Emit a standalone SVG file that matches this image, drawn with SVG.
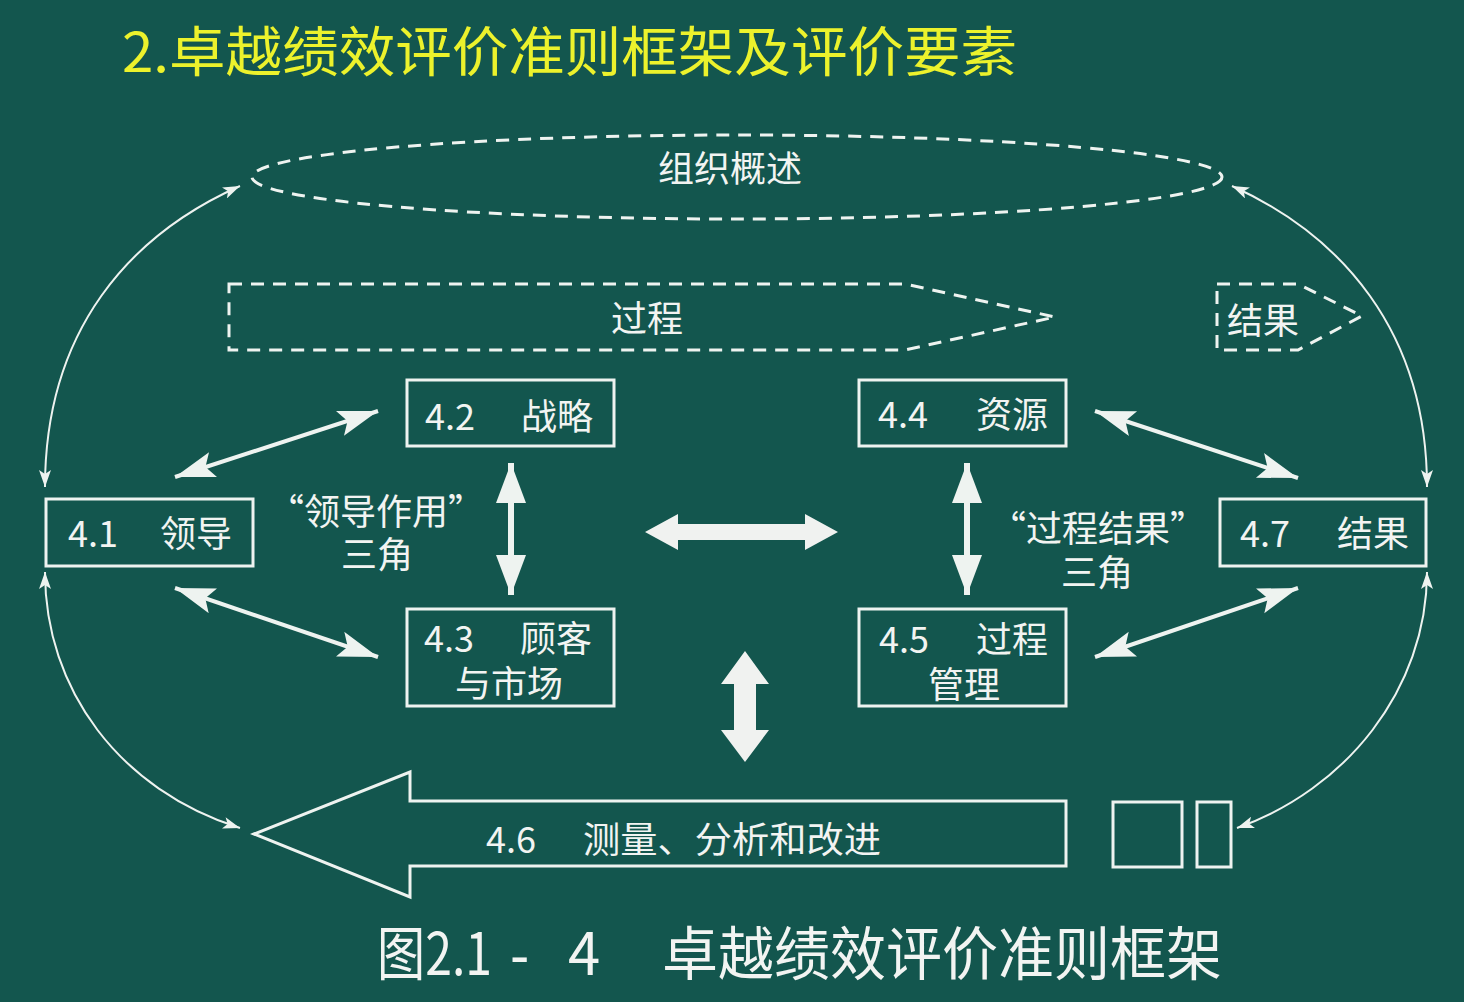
<svg xmlns="http://www.w3.org/2000/svg" width="1464" height="1002" viewBox="0 0 1464 1002">
<defs>
<style>
.t{font-family:"Noto Sans CJK SC","Liberation Sans",sans-serif;fill:#f2f4f2;font-size:36px}
.box{fill:none;stroke:#eef3f0;stroke-width:3}
.dash{fill:none;stroke:#eef3f0;stroke-width:3;stroke-dasharray:13 9}
.thin{fill:none;stroke:#eef3f0;stroke-width:2}
.mid{fill:none;stroke:#eef3f0;stroke-width:4}
.vert{fill:none;stroke:#eef3f0;stroke-width:6}
.fat{fill:#f0f2f0;stroke:none}
</style>
<marker id="ah" markerUnits="userSpaceOnUse" markerWidth="42" markerHeight="28" refX="40" refY="13" orient="auto-start-reverse">
<path d="M0,0 L40,13 L0,26 L8,13 Z" fill="#eef3f0"/>
</marker>
<marker id="av" markerUnits="userSpaceOnUse" markerWidth="42" markerHeight="30" refX="40" refY="15" orient="auto-start-reverse">
<path d="M0,0 L40,15 L0,30 Z" fill="#eef3f0"/>
</marker>
<marker id="at" markerUnits="userSpaceOnUse" markerWidth="18" markerHeight="12" refX="17" refY="6" orient="auto-start-reverse">
<path d="M0,0 L17,6 L0,12 L4,6 Z" fill="#eef3f0"/>
</marker>
</defs>
<rect width="1464" height="1002" fill="#13564e"/>
<text x="122" y="72" class="t" style="fill:#ecf22c;font-size:54px" textLength="895" lengthAdjust="spacingAndGlyphs">2.卓越绩效评价准则框架及评价要素</text>

<g id="overview">
<ellipse cx="737" cy="177" rx="485" ry="42" class="dash"/>
<text x="730" y="182" class="t" text-anchor="middle">组织概述</text>
</g>
<g id="process">
<path d="M229,284 L905,284 L1055,317 L905,350 L229,350 Z" class="dash"/>
<text x="647" y="332" class="t" text-anchor="middle">过程</text>
</g>
<g id="results">
<path d="M1217,284 L1298,284 L1362,316 L1298,350 L1217,350 Z" class="dash"/>
<text x="1227" y="334" class="t">结果</text>
</g>

<g id="n41">
<rect x="46" y="499" width="207" height="67" class="box"/>
<text y="547" class="t"><tspan x="68">4.1</tspan><tspan x="160">领导</tspan></text>
</g>
<g id="n42">
<rect x="407" y="380" width="207" height="66" class="box"/>
<text y="430" class="t"><tspan x="425">4.2</tspan><tspan x="521">战略</tspan></text>
</g>
<g id="n43">
<rect x="407" y="609" width="207" height="97" class="box"/>
<text y="652" class="t"><tspan x="424">4.3</tspan><tspan x="520">顾客</tspan></text>
<text x="455" y="697" class="t">与市场</text>
</g>
<g id="n44">
<rect x="859" y="380" width="207" height="66" class="box"/>
<text y="428" class="t"><tspan x="878">4.4</tspan><tspan x="976">资源</tspan></text>
</g>
<g id="n45">
<rect x="859" y="609" width="207" height="97" class="box"/>
<text y="653" class="t"><tspan x="879">4.5</tspan><tspan x="976">过程</tspan></text>
<text x="928" y="698" class="t">管理</text>
</g>
<g id="n47">
<rect x="1220" y="499" width="206" height="67" class="box"/>
<text y="547" class="t"><tspan x="1240">4.7</tspan><tspan x="1337">结果</tspan></text>
</g>
<g id="n46">
<path d="M254,834 L410,772 L410,801 L1066,801 L1066,866 L410,866 L410,897 Z" class="box"/>
<text y="853" class="t"><tspan x="486">4.6</tspan><tspan x="583" textLength="298" lengthAdjust="spacingAndGlyphs">测量、分析和改进</tspan></text>
</g>
<g id="squares">
<rect x="1113" y="802" width="69" height="65" class="box"/>
<rect x="1197" y="802" width="34" height="65" class="box"/>
</g>
<g id="tri1">
<text x="376" y="525" class="t" text-anchor="middle">“领导作用”</text>
<text x="377" y="568" class="t" text-anchor="middle">三角</text>
</g>
<g id="tri2">
<text x="1098" y="542" class="t" text-anchor="middle">“过程结果”</text>
<text x="1097" y="586" class="t" text-anchor="middle">三角</text>
</g>

<g id="connectors">
<line x1="175" y1="477" x2="378" y2="411" class="mid" marker-start="url(#ah)" marker-end="url(#ah)"/>
<line x1="175" y1="588" x2="378" y2="657" class="mid" marker-start="url(#ah)" marker-end="url(#ah)"/>
<line x1="1095" y1="411" x2="1298" y2="478" class="mid" marker-start="url(#ah)" marker-end="url(#ah)"/>
<line x1="1095" y1="657" x2="1298" y2="588" class="mid" marker-start="url(#ah)" marker-end="url(#ah)"/>
<line x1="511" y1="463" x2="511" y2="595" class="vert" marker-start="url(#av)" marker-end="url(#av)"/>
<line x1="967" y1="463" x2="967" y2="595" class="vert" marker-start="url(#av)" marker-end="url(#av)"/>
<polygon class="fat" points="645,532 678,514 678,524 805,524 805,514 838,532 805,550 805,540 678,540 678,550"/>
<polygon class="fat" points="745,651 769,684 756,684 756,730 769,730 745,762 721,730 734,730 734,684 721,684"/>
<path d="M240,186 C130,235 45,330 45,487" class="thin" marker-start="url(#at)" marker-end="url(#at)"/>
<path d="M45,572 C45,690 120,790 240,828" class="thin" marker-start="url(#at)" marker-end="url(#at)"/>
<path d="M1232,186 C1340,235 1427,330 1427,487" class="thin" marker-start="url(#at)" marker-end="url(#at)"/>
<path d="M1427,572 C1427,690 1345,790 1237,828" class="thin" marker-start="url(#at)" marker-end="url(#at)"/>
</g>

<g id="caption">
<text y="975" class="t" style="font-size:58px"><tspan x="377" textLength="115" lengthAdjust="spacingAndGlyphs">图2.1</tspan><tspan x="510" style="font-family:'Liberation Sans',sans-serif">-</tspan><tspan x="568">4</tspan></text>
<text x="662" y="975" class="t" style="font-size:58px" textLength="560" lengthAdjust="spacingAndGlyphs">卓越绩效评价准则框架</text>
</g>
</svg>
